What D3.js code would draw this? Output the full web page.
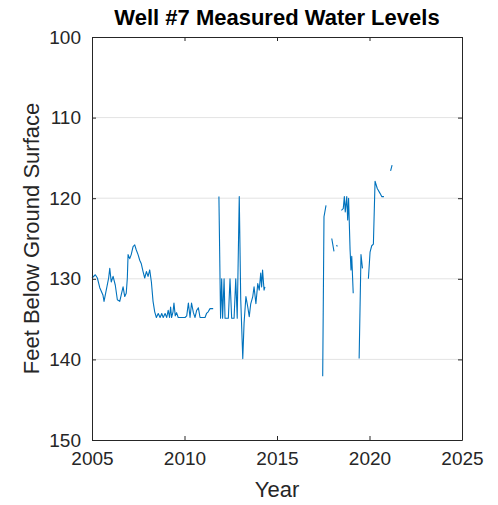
<!DOCTYPE html>
<html><head><meta charset="utf-8">
<script src="https://cdn.jsdelivr.net/npm/d3@7"></script>
<style>body{margin:0;background:#fff}svg{display:block}text{font-family:"Liberation Sans",Arial,sans-serif}</style>
</head><body>
<script>
// Measurement dates (decimal years); null marks a gap in the record
const years = [
  2005.00,2005.18,2005.29,2005.42,2005.59,2005.65,2005.77,2005.90,2005.96,2006.04,2006.14,2006.26,2006.37,2006.50,2006.58,2006.68,2006.77,2006.85,2006.91,2006.95,2007.04,2007.12,2007.22,2007.31,2007.39,2007.49,2007.58,2007.66,2007.76,2007.85,2007.94,2008.03,2008.12,2008.21,2008.30,2008.39,2008.48,
  2008.58,2008.68,2008.77,2008.85,2008.95,2009.04,2009.12,2009.19,2009.25,2009.30,2009.38,2009.43,2009.50,2009.57,2009.66,2010.03,2010.12,2010.21,2010.30,2010.38,2010.48,2010.57,2010.66,2010.75,2010.84,2011.11,2011.19,2011.28,2011.38,2011.55,
  null,
  2011.86,2011.95,2012.01,2012.06,2012.14,2012.19,2012.37,2012.46,2012.55,2012.68,2012.77,2012.85,2012.96,2013.04,2013.15,2013.22,2013.32,2013.42,2013.50,2013.58,2013.69,2013.76,2013.86,2013.96,2014.04,2014.12,2014.17,2014.22,2014.30,2014.35,
  null,
  2017.47,2017.54,2017.65,
  null,
  2017.96,2018.08,
  null,
  2018.22,2018.26,
  null,
  2018.48,2018.58,2018.64,2018.69,2018.77,2018.82,2018.87,2018.95,2019.00,2019.04,2019.12,
  null,
  2019.44,2019.54,2019.62,
  null,
  2019.94,2020.03,2020.12,2020.21,2020.30,2020.42,2020.57,2020.66,2020.78,
  null,
  2021.14,2021.22
];
// Depth to water, feet below ground surface
const levels = [
  129.9,129.5,129.9,131.1,132.0,132.8,131.4,129.9,128.7,130.4,129.7,130.8,132.6,132.8,132.0,131.0,132.2,131.8,129.9,127.0,127.5,127.0,126.0,125.8,126.4,127.0,127.7,128.1,129.1,129.9,129.1,129.7,128.9,130.4,132.8,134.1,134.8,
  134.3,134.8,134.3,134.8,134.3,134.8,133.9,134.8,133.5,134.8,134.1,133.0,134.6,134.2,134.8,134.8,134.6,133.0,134.8,133.0,134.2,134.8,133.9,133.6,134.8,134.8,134.3,134.1,133.7,133.7,
  null,
  119.8,134.9,130.0,134.9,130.0,134.9,134.9,130.0,134.9,134.9,130.0,134.9,119.8,132.6,139.9,135.5,132.2,133.5,134.7,133.1,132.2,131.0,133.1,130.6,131.4,129.3,131.0,128.9,131.4,131.0,
  null,
  142.1,122.3,120.9,
  null,
  125.0,126.6,
  null,
  125.8,126.0,
  null,
  121.5,121.3,119.8,121.7,119.8,122.7,120.0,126.4,128.9,127.2,131.8,
  null,
  139.9,127.0,128.7,
  null,
  130.0,126.7,125.9,125.7,117.9,118.8,119.4,119.8,119.8,
  null,
  116.6,115.9
];
const xTicks = [2005, 2010, 2015, 2020, 2025];
const yTicks = [100, 110, 120, 130, 140, 150];
const titleText = "Well #7 Measured Water Levels";
const xLabelText = "Year";
const yLabelText = "Feet Below Ground Surface";

const W = 498, H = 505;
const m = {left: 92, right: 36, top: 37, bottom: 65};
const svg = d3.select("body").append("svg").attr("width", W).attr("height", H);
const x = d3.scaleLinear().domain([2005, 2025]).range([m.left, W - m.right]);
const y = d3.scaleLinear().domain([100, 150]).range([m.top, H - m.bottom]);
const axisColor = "#262626";

// horizontal grid
svg.append("g").selectAll("line").data(yTicks.slice(1, -1)).join("line")
  .attr("x1", x(2005)).attr("x2", x(2025))
  .attr("y1", d => y(d)).attr("y2", d => y(d))
  .attr("stroke", "#e3e3e3").attr("stroke-width", 1);

// data line
const pts = years.map((t, i) => ({t, v: levels[i]}));
svg.append("path").datum(pts)
  .attr("d", d3.line().defined(d => d.t != null && d.v != null).x(d => x(d.t)).y(d => y(d.v)))
  .attr("fill", "none").attr("stroke", "#0072BD").attr("stroke-width", 1.1)
  .attr("stroke-linejoin", "round");

// axes
function styleAxis(g) {
  g.selectAll("path.domain").attr("stroke", axisColor);
  g.selectAll(".tick line").attr("stroke", axisColor);
  g.selectAll("text").attr("fill", axisColor).style("font-size", "19px")
    .style("font-family", '"Liberation Sans", Arial, sans-serif');
}
const tl = 4;
svg.append("g").attr("transform", `translate(0,${y(150)})`)
  .call(d3.axisBottom(x).tickValues(xTicks).tickFormat(d3.format("d")).tickSizeInner(-tl).tickSizeOuter(0).tickPadding(12))
  .call(styleAxis);
svg.append("g").attr("transform", `translate(0,${y(100)})`)
  .call(d3.axisTop(x).tickValues(xTicks).tickFormat("").tickSizeInner(-tl).tickSizeOuter(0))
  .call(styleAxis);
svg.append("g").attr("transform", `translate(${x(2005)},0)`)
  .call(d3.axisLeft(y).tickValues(yTicks).tickFormat(d3.format("d")).tickSizeInner(-tl).tickSizeOuter(0).tickPadding(11))
  .call(styleAxis);
svg.append("g").attr("transform", `translate(${x(2025)},0)`)
  .call(d3.axisRight(y).tickValues(yTicks).tickFormat("").tickSizeInner(-tl).tickSizeOuter(0))
  .call(styleAxis);

// title and labels
svg.append("text").attr("x", (x(2005) + x(2025)) / 2).attr("y", 25)
  .attr("text-anchor", "middle").style("font-size", "22px").style("font-weight", "bold")
  .attr("fill", "#000").text(titleText);
svg.append("text").attr("x", (x(2005) + x(2025)) / 2).attr("y", 497)
  .attr("text-anchor", "middle").style("font-size", "22px").attr("fill", axisColor).text(xLabelText);
svg.append("text").attr("transform", `translate(39,${(y(100) + y(150)) / 2}) rotate(-90)`)
  .attr("text-anchor", "middle").style("font-size", "22px").attr("fill", axisColor).text(yLabelText);
</script>
</body></html>
